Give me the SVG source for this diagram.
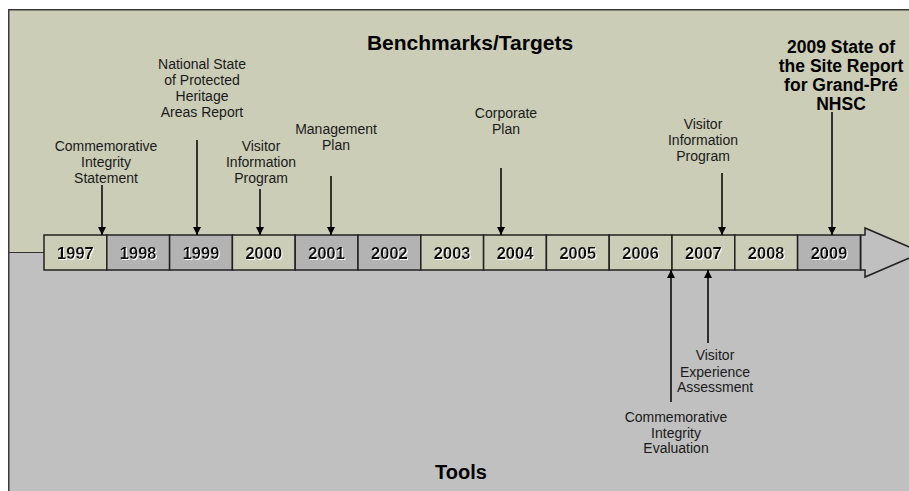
<svg xmlns="http://www.w3.org/2000/svg" width="909" height="491" viewBox="0 0 909 491">
<style>
.lbl{font-family:"Liberation Sans",Arial,sans-serif;font-size:14px;fill:#1a1a1a;text-anchor:middle}
.bold{font-family:"Liberation Sans",Arial,sans-serif;font-weight:bold;fill:#000;text-anchor:middle}
.yr{font-family:"Liberation Sans",Arial,sans-serif;font-weight:bold;font-size:16.5px;fill:#111;text-anchor:middle}
.box{stroke:#222;stroke-width:1.5}
.g{fill:#CBCDB7}
.d{fill:#B3B3B3}
.con{stroke:#000;stroke-width:1.5;fill:none}
</style>
<defs>
<marker id="ah" viewBox="0 0 10 10" refX="10" refY="5" markerWidth="8" markerHeight="8" markerUnits="userSpaceOnUse" orient="auto">
<path d="M0,0 L10,5 L0,10 z" fill="#000"/>
</marker>
<filter id="sh" x="-10%" y="-20%" width="130%" height="150%">
<feOffset in="SourceAlpha" dx="1" dy="1" result="o"/>
<feFlood flood-color="#ffffff" result="w"/>
<feComposite in="w" in2="o" operator="in" result="s"/>
<feMerge><feMergeNode in="s"/><feMergeNode in="SourceGraphic"/></feMerge>
</filter>
</defs>
<g id="background">
<rect x="9" y="10" width="900" height="242" fill="#CBCDB7"/>
<rect x="9" y="252" width="900" height="239" fill="#C0C0C0"/>
<path d="M8.75,491 V9.75 H909" fill="none" stroke="#3a3a3a" stroke-width="1.5"/>
<line x1="9" y1="252.5" x2="44" y2="252.5" stroke="#333" stroke-width="1.2"/>
</g>
<text class="bold" x="470" y="50" font-size="21">Benchmarks/Targets</text>
<text class="bold" x="461" y="479" font-size="20">Tools</text>
<g id="timeline">
<polygon points="860.7,235 865,235 865,228 922,252.5 865,277 865,270 860.7,270" fill="#C0C0C0" stroke="#222" stroke-width="1.5"/>
<g id="y1997"><rect class="box g" x="44" y="235" width="62.8" height="35"/><text class="yr" filter="url(#sh)" x="75.4" y="259">1997</text></g>
<g id="y1998"><rect class="box d" x="106.8" y="235" width="62.8" height="35"/><text class="yr" filter="url(#sh)" x="138.2" y="259">1998</text></g>
<g id="y1999"><rect class="box d" x="169.6" y="235" width="62.8" height="35"/><text class="yr" filter="url(#sh)" x="201" y="259">1999</text></g>
<g id="y2000"><rect class="box g" x="232.4" y="235" width="62.8" height="35"/><text class="yr" filter="url(#sh)" x="263.8" y="259">2000</text></g>
<g id="y2001"><rect class="box d" x="295.2" y="235" width="62.8" height="35"/><text class="yr" filter="url(#sh)" x="326.6" y="259">2001</text></g>
<g id="y2002"><rect class="box d" x="358" y="235" width="62.8" height="35"/><text class="yr" filter="url(#sh)" x="389.4" y="259">2002</text></g>
<g id="y2003"><rect class="box g" x="420.8" y="235" width="62.8" height="35"/><text class="yr" filter="url(#sh)" x="452.2" y="259">2003</text></g>
<g id="y2004"><rect class="box g" x="483.6" y="235" width="62.8" height="35"/><text class="yr" filter="url(#sh)" x="515" y="259">2004</text></g>
<g id="y2005"><rect class="box g" x="546.4" y="235" width="62.8" height="35"/><text class="yr" filter="url(#sh)" x="577.8" y="259">2005</text></g>
<g id="y2006"><rect class="box g" x="609.2" y="235" width="62.8" height="35"/><text class="yr" filter="url(#sh)" x="640.6" y="259">2006</text></g>
<g id="y2007"><rect class="box g" x="672" y="235" width="62.8" height="35"/><text class="yr" filter="url(#sh)" x="703.4" y="259">2007</text></g>
<g id="y2008"><rect class="box g" x="734.8" y="235" width="62.8" height="35"/><text class="yr" filter="url(#sh)" x="766.2" y="259">2008</text></g>
<g id="y2009"><rect class="box d" x="797.6" y="235" width="62.8" height="35"/><text class="yr" filter="url(#sh)" x="829" y="259">2009</text></g>
</g>
<g id="labels">
<g id="cis"><text class="lbl"><tspan x="106" y="151">Commemorative</tspan><tspan x="106" y="167">Integrity</tspan><tspan x="106" y="183">Statement</tspan></text></g>
<g id="nsphar"><text class="lbl"><tspan x="202" y="69">National State</tspan><tspan x="202" y="85">of Protected</tspan><tspan x="202" y="101">Heritage</tspan><tspan x="202" y="117">Areas Report</tspan></text></g>
<g id="vip2000"><text class="lbl"><tspan x="261" y="151">Visitor</tspan><tspan x="261" y="167">Information</tspan><tspan x="261" y="183">Program</tspan></text></g>
<g id="mp"><text class="lbl"><tspan x="336" y="134">Management</tspan><tspan x="336" y="150">Plan</tspan></text></g>
<g id="cp"><text class="lbl"><tspan x="506" y="118">Corporate</tspan><tspan x="506" y="134">Plan</tspan></text></g>
<g id="vip2007"><text class="lbl"><tspan x="703" y="129">Visitor</tspan><tspan x="703" y="145">Information</tspan><tspan x="703" y="161">Program</tspan></text></g>
<g id="sosr"><text class="bold" font-size="17.5"><tspan x="841" y="53">2009 State of</tspan><tspan x="841" y="72">the Site Report</tspan><tspan x="841" y="91">for Grand-Pré</tspan><tspan x="841" y="110">NHSC</tspan></text></g>
<g id="vea"><text class="lbl"><tspan x="715" y="360">Visitor</tspan><tspan x="715" y="377">Experience</tspan><tspan x="715" y="392">Assessment</tspan></text></g>
<g id="cie"><text class="lbl"><tspan x="676" y="422">Commemorative</tspan><tspan x="676" y="438">Integrity</tspan><tspan x="676" y="453">Evaluation</tspan></text></g>
</g>
<g id="connectors">
<line class="con" x1="102" y1="185" x2="102" y2="235" marker-end="url(#ah)"/>
<line class="con" x1="197" y1="140" x2="197" y2="235" marker-end="url(#ah)"/>
<line class="con" x1="260" y1="189" x2="260" y2="235" marker-end="url(#ah)"/>
<line class="con" x1="331" y1="176" x2="331" y2="235" marker-end="url(#ah)"/>
<line class="con" x1="501" y1="168" x2="501" y2="235" marker-end="url(#ah)"/>
<line class="con" x1="722" y1="173" x2="722" y2="235" marker-end="url(#ah)"/>
<line class="con" x1="832" y1="112" x2="832" y2="235" marker-end="url(#ah)"/>
<line class="con" x1="671" y1="402" x2="671" y2="270" marker-end="url(#ah)"/>
<line class="con" x1="708" y1="343" x2="708" y2="270" marker-end="url(#ah)"/>
</g>
</svg>
